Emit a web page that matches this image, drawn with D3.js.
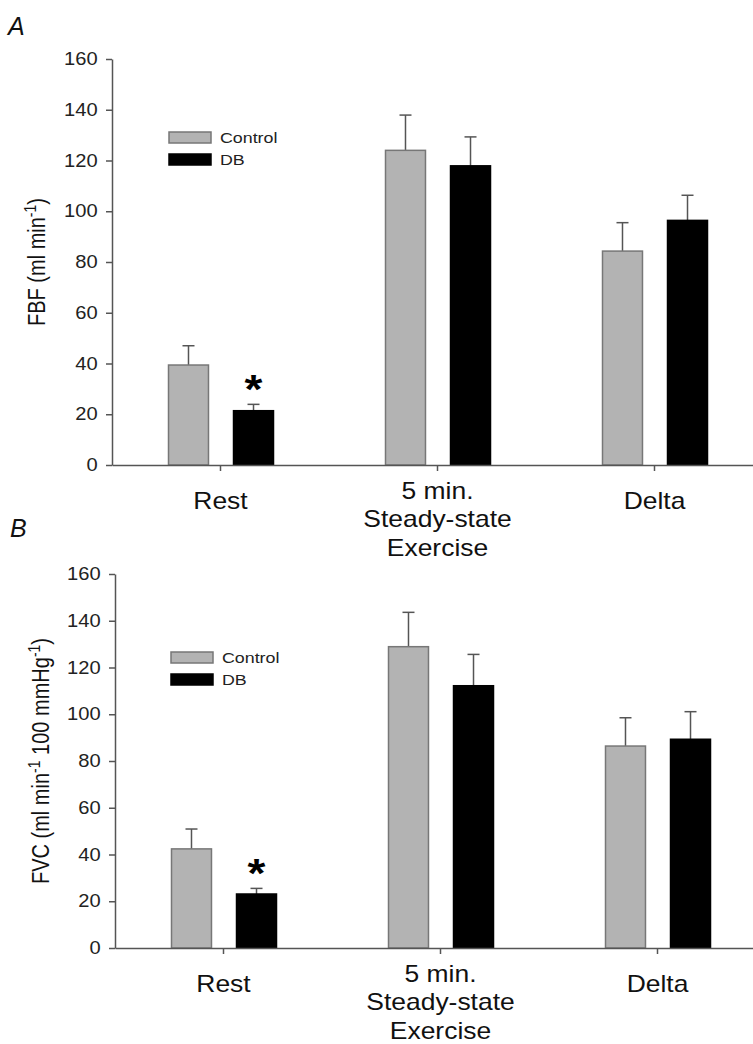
<!DOCTYPE html>
<html>
<head>
<meta charset="utf-8">
<script src="https://cdn.jsdelivr.net/npm/d3@7"></script>
<style>
body { margin: 0; background: #fff; }
text { font-family: "Liberation Sans", Arial, sans-serif; fill: #111; }
</style>
</head>
<body>
<div id="chart"></div>
<script>
// shared categories / ticks
const categories = ['Rest', 'Steady', 'Delta'];
const categoryLabels = [['Rest'], ['5 min.', 'Steady-state', 'Exercise'], ['Delta']];
const groups = ['Control', 'DB'];
const yTicks = [0, 20, 40, 60, 80, 100, 120, 140, 160];

// panel A - FBF (mean, SEM)
const fbfControl = [39.4, 124.0, 84.3];
const fbfControlSem = [7.6, 13.9, 11.2];
const fbfDb = [21.4, 117.9, 96.4];
const fbfDbSem = [2.5, 11.4, 9.9];
const fbfStars = ['Rest'];

// panel B - FVC (mean, SEM)
const fvcControl = [42.4, 128.9, 86.4];
const fvcControlSem = [8.5, 14.7, 12.1];
const fvcDb = [23.1, 112.2, 89.3];
const fvcDbSem = [2.4, 13.4, 11.8];
const fvcStars = ['Rest'];

const W = 753, H = 1044;
const sx = 1.15; // the original figure is slightly stretched sideways
const colors = { Control: '#b3b3b3', DB: '#000' };
const strokes = { Control: '#777', DB: '#000' };
const axisColor = '#555';

const svg = d3.select('#chart')
    .append('svg')
    .attr('width', W)
    .attr('height', H);

function drawPanel(p) {
    const g = svg.append('g');

    const x = d3.scaleBand()
        .domain(categories)
        .range([p.left, p.left + 3 * p.step]);
    const xSub = d3.scaleBand()
        .domain(groups)
        .range([-52, 53])
        .paddingInner(0.385);
    const y = d3.scaleLinear()
        .domain([0, 160])
        .range([p.bottom, p.top]);

    const rows = [];
    categories.forEach((c, i) => {
        rows.push({ cat: c, group: 'Control', val: p.control[i], sem: p.controlSem[i] });
        rows.push({ cat: c, group: 'DB', val: p.db[i], sem: p.dbSem[i] });
    });
    const cx = d => x(d.cat) + x.bandwidth() / 2 + xSub(d.group) + xSub.bandwidth() / 2;

    // error bars (upper only)
    const eb = g.append('g')
        .attr('stroke', axisColor)
        .attr('stroke-width', 1.5);
    eb.selectAll('line.v')
        .data(rows)
        .join('line')
        .attr('x1', cx).attr('x2', cx)
        .attr('y1', d => y(d.val))
        .attr('y2', d => y(d.val + d.sem));
    eb.selectAll('line.cap')
        .data(rows)
        .join('line')
        .attr('x1', d => cx(d) - 6).attr('x2', d => cx(d) + 6)
        .attr('y1', d => y(d.val + d.sem))
        .attr('y2', d => y(d.val + d.sem));

    // bars
    g.append('g')
        .selectAll('rect')
        .data(rows)
        .join('rect')
        .attr('x', d => x(d.cat) + x.bandwidth() / 2 + xSub(d.group))
        .attr('width', xSub.bandwidth())
        .attr('y', d => y(d.val))
        .attr('height', d => y(0) - y(d.val))
        .attr('fill', d => colors[d.group])
        .attr('stroke', d => strokes[d.group])
        .attr('stroke-width', 1.5);

    // significance stars on DB bars
    g.selectAll('text.star')
        .data(rows.filter(d => d.group === 'DB' && p.stars.includes(d.cat)))
        .join('text')
        .attr('class', 'star')
        .attr('transform', d => `translate(${cx(d)},${y(d.val + d.sem) - 1}) scale(${sx},1)`)
        .attr('text-anchor', 'middle')
        .style('font-size', '40px')
        .style('font-weight', 'bold')
        .style('fill', '#000')
        .text('*');

    // y axis
    const gy = g.append('g')
        .attr('transform', `translate(${p.left},0)`)
        .call(d3.axisLeft(y).tickValues(yTicks).tickSize(6).tickSizeOuter(0));
    gy.selectAll('path, line').attr('stroke', axisColor).attr('stroke-width', 1.5);
    gy.selectAll('.tick text')
        .attr('x', -12.5)
        .attr('transform', `scale(${sx},1)`)
        .style('font-size', '17.5px')
        .style('fill', '#222');

    // x axis
    const gx = g.append('g')
        .attr('transform', `translate(0,${p.bottom})`)
        .call(d3.axisBottom(x).tickSize(6).tickSizeOuter(0).tickFormat(''));
    gx.selectAll('path, line').attr('stroke', axisColor).attr('stroke-width', 1.5);
    gx.selectAll('.tick text').remove();
    gx.selectAll('.tick').each(function (c, i) {
        const lines = categoryLabels[i];
        const t = d3.select(this).append('text')
            .attr('text-anchor', 'middle')
            .attr('transform', `scale(${sx},1)`)
            .style('font-size', '23px')
            .style('fill', '#111');
        lines.forEach((ln, j) => {
            t.append('tspan')
                .attr('x', 0)
                .attr('y', (lines.length === 1 ? 44 : 34) + j * 28.5)
                .text(ln);
        });
    });

    // y title with superscripts
    const title = g.append('text')
        .attr('transform', `translate(${p.titleX},${(p.top + p.bottom) / 2}) scale(${sx},1) rotate(-90)`)
        .attr('text-anchor', 'middle')
        .style('font-size', '20px')
        .style('fill', '#111');
    let up = false;
    p.title.forEach(([s, sup]) => {
        const ts = title.append('tspan').text(s);
        if (sup) {
            ts.style('font-size', '14px').attr('dy', -8);
            up = true;
        } else if (up) {
            ts.attr('dy', 8);
            up = false;
        }
    });

    // legend
    groups.forEach((grp, i) => {
        const ly = p.legendY + i * 22;
        g.append('rect')
            .attr('x', p.legendX).attr('y', ly)
            .attr('width', 42).attr('height', 11)
            .attr('fill', colors[grp])
            .attr('stroke', strokes[grp])
            .attr('stroke-width', 1.5);
        g.append('text')
            .attr('transform', `translate(${p.legendX + 51},${ly + 11}) scale(${sx},1)`)
            .style('font-size', '15.5px')
            .style('fill', '#222')
            .text(grp);
    });

    // panel letter
    g.append('text')
        .attr('x', p.letterX).attr('y', p.letterY)
        .style('font-size', '25px')
        .style('font-style', 'italic')
        .text(p.letter);
}

drawPanel({
    letter: 'A', letterX: 8, letterY: 35,
    left: 112, top: 59, bottom: 465, step: 217,
    control: fbfControl, controlSem: fbfControlSem,
    db: fbfDb, dbSem: fbfDbSem, stars: fbfStars,
    title: [['FBF (ml min', false], ['-1', true], [')', false]],
    titleX: 45, legendX: 169, legendY: 132
});

drawPanel({
    letter: 'B', letterX: 10, letterY: 537,
    left: 115, top: 574, bottom: 948, step: 217,
    control: fvcControl, controlSem: fvcControlSem,
    db: fvcDb, dbSem: fvcDbSem, stars: fvcStars,
    title: [['FVC (ml min', false], ['-1', true], [' 100 mmHg', false], ['-1', true], [')', false]],
    titleX: 49, legendX: 171, legendY: 652
});
</script>
</body>
</html>
